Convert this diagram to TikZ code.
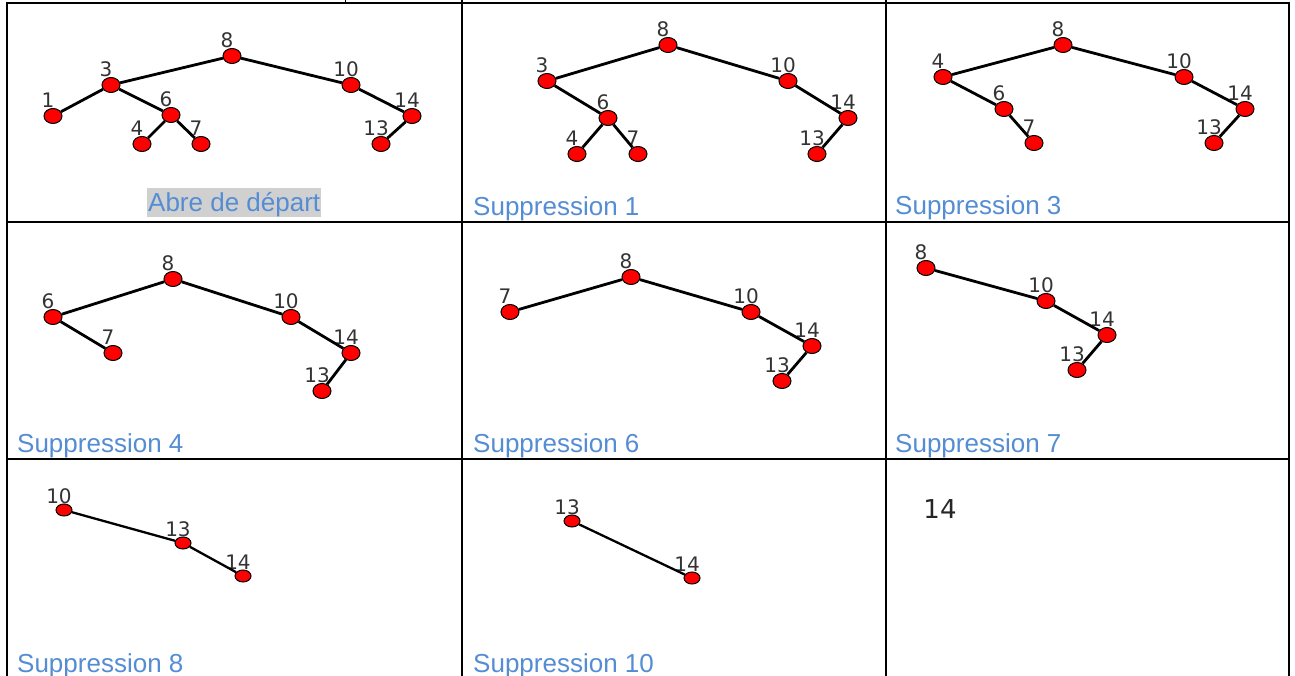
\documentclass[tikz,border=0pt]{standalone}
\usepackage{fontspec}
\setmainfont{Liberation Sans}
\newfontfamily\dvs{DejaVu Sans}
\usetikzlibrary{shapes.geometric}
\definecolor{capblue}{RGB}{84,141,212}
\definecolor{hlgray}{RGB}{208,208,208}
\begin{document}
\begin{tikzpicture}[x=1pt,y=-1pt,
  gridline/.style={line width=2.4pt, black},
  lbl/.style={font=\dvs\fontsize{20}{20}\selectfont, text=black!80, inner sep=0pt, xshift=-5pt},
  tn/.style={ellipse, draw=black, line width=1pt, fill=red, minimum width=18pt, minimum height=15pt, inner sep=0pt, label distance=-2pt, label={[lbl]above:#1}},
  tns/.style={tn=#1, minimum width=16pt, minimum height=12pt},
  edge/.style={line width=2.8pt, black},
  captxt/.style={anchor=base west, font=\fontsize{26}{30}\selectfont, text=capblue, inner sep=0pt}]
\useasboundingbox (0,0) rectangle (1295,676);
\fill[white] (0,0) rectangle (1295,676);
% table grid
\draw[gridline] (6,3) -- (1290,3);
\draw[gridline] (6,222) -- (1290,222);
\draw[gridline] (6,459) -- (1290,459);
\draw[gridline] (7,2) -- (7,676);
\draw[gridline] (462,0) -- (462,676);
\draw[gridline] (886,0) -- (886,676);
\draw[gridline] (1289,2) -- (1289,676);
\draw[line width=1pt] (345,0) -- (345,3);
% cell 1
\node[tn=8] (A8) at (232,56) {};
\node[tn=3] (A3) at (111,85) {};
\node[tn=1] (A1) at (53,116) {};
\node[tn=6] (A6) at (171,115) {};
\node[tn=4] (A4) at (142,144) {};
\node[tn=7] (A7) at (201,144) {};
\node[tn=10] (A10) at (351,85) {};
\node[tn=14] (A14) at (412,116) {};
\node[tn=13] (A13) at (381,144) {};
\draw[edge] (A8) -- (A3); \draw[edge] (A8) -- (A10);
\draw[edge] (A3) -- (A1); \draw[edge] (A3) -- (A6);
\draw[edge] (A6) -- (A4); \draw[edge] (A6) -- (A7);
\draw[edge] (A10) -- (A14); \draw[edge] (A14) -- (A13);
\node[captxt, fill=hlgray, inner xsep=1pt, text height=24pt, text depth=5pt] (C0) at (147,212) {Abre de départ};
% cell 2
\node[tn=8] (B8) at (668,45) {};
\node[tn=3] (B3) at (547,81) {};
\node[tn=6] (B6) at (608,118) {};
\node[tn=4] (B4) at (577,154) {};
\node[tn=7] (B7) at (638,154) {};
\node[tn=10] (B10) at (788,81) {};
\node[tn=14] (B14) at (848,118) {};
\node[tn=13] (B13) at (817,154) {};
\draw[edge] (B8) -- (B3); \draw[edge] (B8) -- (B10);
\draw[edge] (B3) -- (B6);
\draw[edge] (B6) -- (B4); \draw[edge] (B6) -- (B7);
\draw[edge] (B10) -- (B14); \draw[edge] (B14) -- (B13);
\node[captxt] (C1) at (473,216) {Suppression 1};
% cell 3
\node[tn=8] (D8) at (1063,45) {};
\node[tn=4] (D4) at (943,77) {};
\node[tn=6] (D6) at (1004,109) {};
\node[tn=7] (D7) at (1034,143) {};
\node[tn=10] (D10) at (1184,77) {};
\node[tn=14] (D14) at (1245,109) {};
\node[tn=13] (D13) at (1214,143) {};
\draw[edge] (D8) -- (D4); \draw[edge] (D8) -- (D10);
\draw[edge] (D4) -- (D6); \draw[edge] (D6) -- (D7);
\draw[edge] (D10) -- (D14); \draw[edge] (D14) -- (D13);
\node[captxt] (C3) at (895,215) {Suppression 3};
% cell 4
\node[tn=8] (E8) at (173,279) {};
\node[tn=6] (E6) at (53,317) {};
\node[tn=7] (E7) at (113,353) {};
\node[tn=10] (E10) at (291,317) {};
\node[tn=14] (E14) at (351,353) {};
\node[tn=13] (E13) at (322,391) {};
\draw[edge] (E8) -- (E6); \draw[edge] (E8) -- (E10);
\draw[edge] (E6) -- (E7);
\draw[edge] (E10) -- (E14); \draw[edge] (E14) -- (E13);
\node[captxt] (C4) at (17,452) {Suppression 4};
% cell 5
\node[tn=8] (F8) at (631,277) {};
\node[tn=7] (F7) at (510,312) {};
\node[tn=10] (F10) at (751,312) {};
\node[tn=14] (F14) at (812,346) {};
\node[tn=13] (F13) at (782,381) {};
\draw[edge] (F8) -- (F7); \draw[edge] (F8) -- (F10);
\draw[edge] (F10) -- (F14); \draw[edge] (F14) -- (F13);
\node[captxt] (C6) at (473,452) {Suppression 6};
% cell 6
\node[tn=8] (G8) at (926,268) {};
\node[tn=10] (G10) at (1046,301) {};
\node[tn=14] (G14) at (1107,335) {};
\node[tn=13] (G13) at (1077,370) {};
\draw[edge] (G8) -- (G10);
\draw[edge] (G10) -- (G14); \draw[edge] (G14) -- (G13);
\node[captxt] (C7) at (895,452) {Suppression 7};
% cell 7
\node[tns=10] (H10) at (64,510) {};
\node[tns=13] (H13) at (183,543) {};
\node[tns=14] (H14) at (243,576) {};
\draw[edge, line width=2.3pt] (H10) -- (H13); \draw[edge, line width=2.3pt] (H13) -- (H14);
\node[captxt] (C8) at (17,672) {Suppression 8};
% cell 8
\node[tns=13] (K13) at (572,521) {};
\node[tns=14] (K14) at (692,578) {};
\draw[edge, line width=2.3pt] (K13) -- (K14);
\node[captxt] (C10) at (473,672) {Suppression 10};
% cell 9
\node[font=\dvs\fontsize{26}{26}\selectfont, text=black!85, inner sep=0pt] (L14) at (940,509) {14};
\end{tikzpicture}
\end{document}
